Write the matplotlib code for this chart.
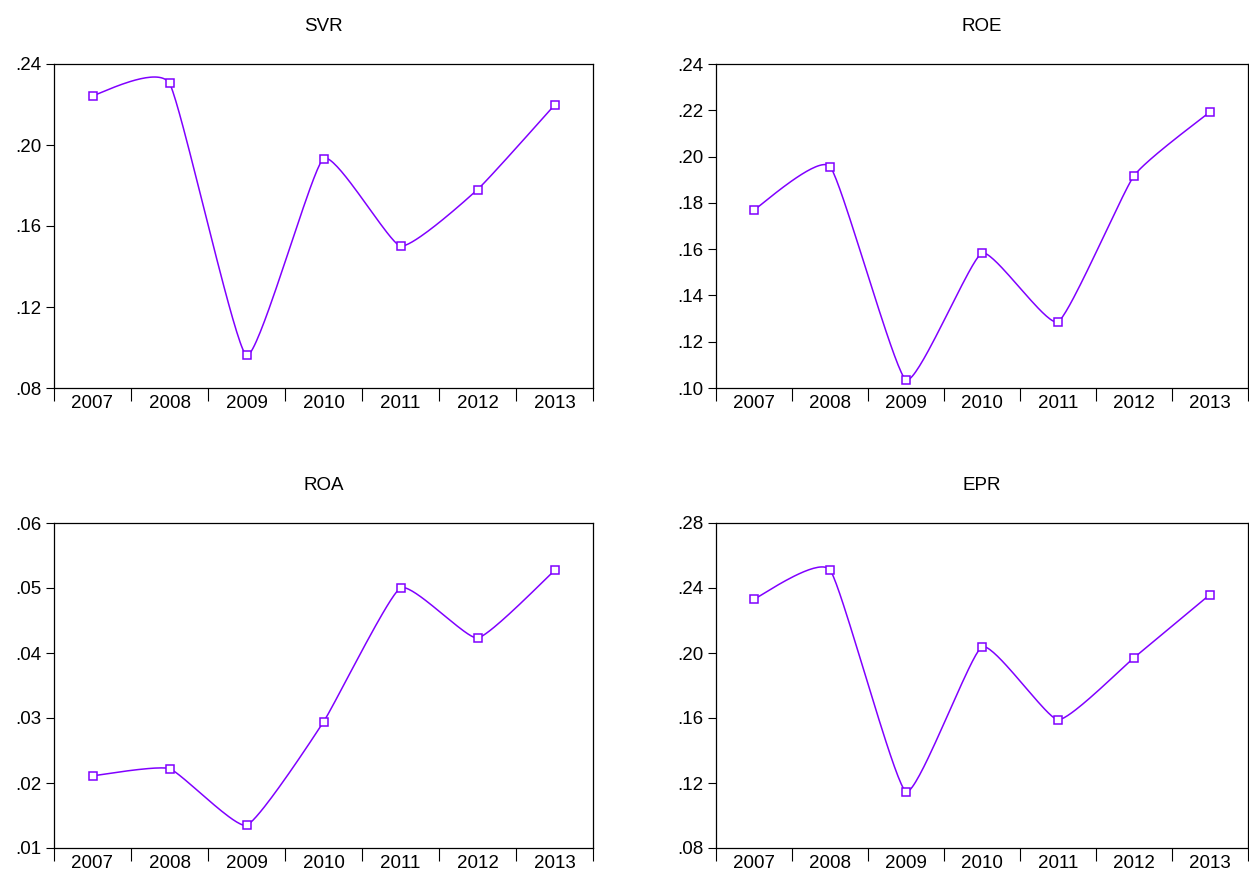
import numpy as np
import matplotlib
matplotlib.use("Agg")
import matplotlib.pyplot as plt
from matplotlib.ticker import FuncFormatter

plt.rcParams["font.family"] = ["Liberation Sans", "DejaVu Sans"]

years = [2007, 2008, 2009, 2010, 2011, 2012, 2013]

svr = [0.2243, 0.2304, 0.0961, 0.1933, 0.1501, 0.1780, 0.2197]
roe = [0.1769, 0.1957, 0.1035, 0.1583, 0.1286, 0.1917, 0.2193]
roa = [0.0211, 0.0222, 0.0135, 0.0294, 0.0500, 0.0423, 0.0527]
epr = [0.2331, 0.2511, 0.1147, 0.2038, 0.1589, 0.1971, 0.2360]

titles = ["SVR", "ROE", "ROA", "EPR"]
series = [svr, roe, roa, epr]
y_ticks = [
    [0.08, 0.12, 0.16, 0.20, 0.24],
    [0.10, 0.12, 0.14, 0.16, 0.18, 0.20, 0.22, 0.24],
    [0.01, 0.02, 0.03, 0.04, 0.05, 0.06],
    [0.08, 0.12, 0.16, 0.20, 0.24, 0.28],
]

LINE = "#8000ff"
W, H = 1249, 877
# axes boxes in pixels: left, top, right, bottom
boxes = [(54, 64, 593, 388), (716, 64, 1248, 388),
         (54, 523, 593, 848), (716, 523, 1248, 848)]


def cardinal(pts, k=0.075, n=40):
    # cardinal spline (bezier form) through screen points, drawing only
    p = np.vstack([pts[0], pts, pts[-1]])
    t = np.linspace(0, 1, n)[:, None]
    out = []
    for i in range(1, len(p) - 2):
        a, b = p[i], p[i + 1]
        c1 = a + k * (p[i + 1] - p[i - 1])
        c2 = b - k * (p[i + 2] - p[i])
        out.append((1 - t) ** 3 * a + 3 * (1 - t) ** 2 * t * c1
                   + 3 * (1 - t) * t ** 2 * c2 + t ** 3 * b)
    return np.vstack(out)


fmt = FuncFormatter(lambda v, p: ("%.2f" % v).lstrip("0"))

fig = plt.figure(figsize=(W / 100, H / 100), dpi=100)
for title, vals, ticks, (l, t, r, b) in zip(titles, series, y_ticks, boxes):
    ax = fig.add_axes([l / W, 1 - b / H, (r - l) / W, (b - t) / H])
    x = np.arange(len(years))
    ax.set_xlim(-0.5, len(years) - 0.5)
    ax.set_ylim(ticks[0], ticks[-1])
    scr = ax.transData.transform(np.column_stack([x, vals]))
    curve = ax.transData.inverted().transform(cardinal(scr))
    ax.plot(curve[:, 0], curve[:, 1], color=LINE, lw=1.1)
    ax.plot(x, vals, ls="none", marker="s", ms=6.4, mfc="white", mec=LINE, mew=1.1)
    ax.set_yticks(ticks)
    ax.yaxis.set_major_formatter(fmt)
    ax.set_xticks(np.arange(len(years) + 1) - 0.5)
    ax.set_xticklabels([])
    ax.set_xticks(x, minor=True)
    ax.set_xticklabels([str(y) for y in years], minor=True)
    ax.tick_params(axis="x", which="major", length=9, direction="out", width=0.8)
    ax.tick_params(axis="x", which="minor", length=0, labelsize=13.5, pad=5)
    ax.tick_params(axis="y", length=6, direction="out", width=0.8, labelsize=13.5, pad=3)
    for sp in ax.spines.values():
        sp.set_linewidth(0.9)
    ax.set_title(title, fontsize=13.5, pad=24)

fig.savefig("out.png", dpi=100)
